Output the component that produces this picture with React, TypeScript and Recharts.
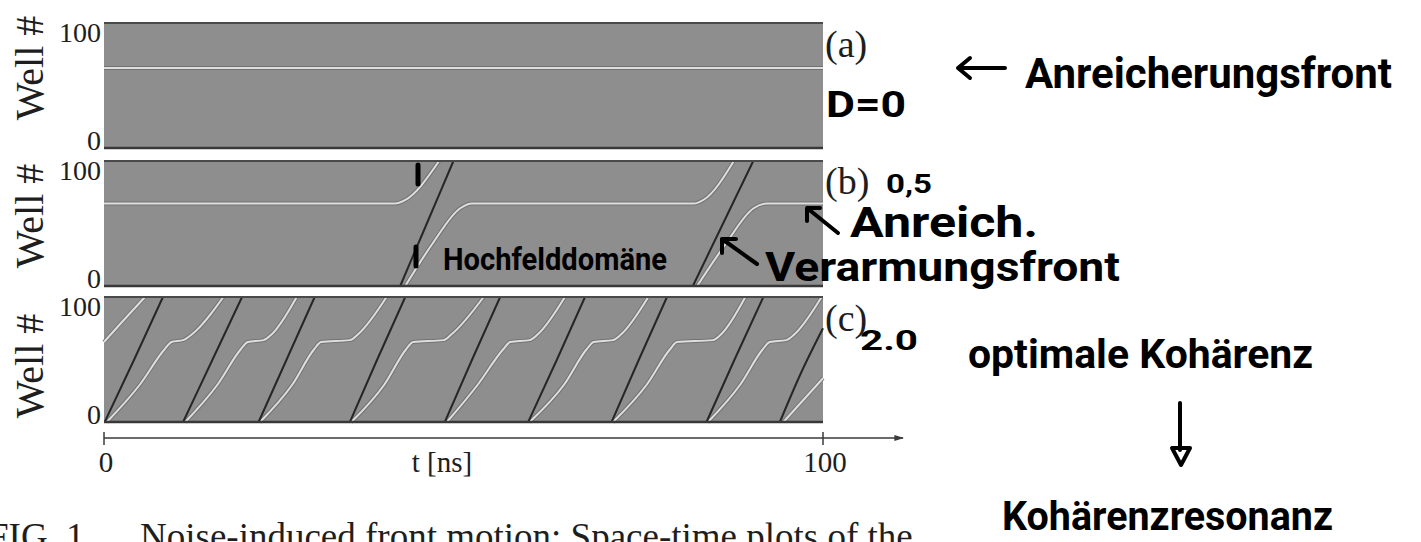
import React from "react"
import { LineChart, Line, XAxis, YAxis, ReferenceArea, ReferenceLine } from "recharts"

const SERIF = '"Liberation Serif", "Times New Roman", serif'
const HAND = 'Roboto, "DejaVu Sans", sans-serif'

type Pt = [number, number] // [t in ns, well #]

const wellTicks = [0, 100]
const timeTicks = [0, 100]
const panelTags = ["(a)", "(b)", "(c)"]

// (a) D = 0: the accumulation front stays put
const accumA: Pt[][] = [[[0, 64], [100, 64]]]
const depletionA: Pt[][] = []

// (b) D = 0.5: two noise-triggered domains
const accumB: Pt[][] = [
  [[0, 66], [40.5, 66], [41.8, 68.5], [46.6, 100]],
  [[41.9, 0], [45.7, 34], [49.5, 62], [51.2, 66], [82, 66], [83.4, 69], [87.6, 100]],
  [[82.5, 0], [86.5, 34], [90.3, 62], [92.2, 66], [100, 66]],
]
const depletionB: Pt[][] = [
  [[41.2, 0], [44.9, 50], [48.6, 100]],
  [[81.9, 0], [86.1, 50], [90.3, 100]],
]

// (c) D = 2.0: nearly periodic front motion
const accumC: Pt[][] = [
  [[0, 64], [2.5, 80], [5.7, 100]],
  [[0.4, 0], [5, 30], [8.4, 58], [9.4, 64], [11, 65.5], [12.2, 70], [16.6, 100]],
  [[11.3, 0], [15.8, 30], [19, 58], [20, 64], [22.2, 65.5], [23.3, 70], [26.8, 100]],
  [[21.7, 0], [26.2, 30], [29.2, 58], [30.2, 64], [34.2, 65.5], [35.3, 70], [39.3, 100]],
  [[34.4, 0], [39, 30], [42, 58], [43, 64], [47.2, 65.5], [48.3, 70], [52.8, 100]],
  [[47.7, 0], [52, 30], [55.5, 58], [56.5, 64], [59.2, 65.5], [60.3, 70], [64.1, 100]],
  [[59.2, 0], [64, 30], [67.1, 58], [68.1, 64], [70.8, 65.5], [71.9, 70], [75.7, 100]],
  [[70.8, 0], [75.5, 30], [78.7, 58], [79.7, 64], [84.7, 65.5], [85.8, 70], [89.2, 100]],
  [[84, 0], [88.5, 30], [91.6, 58], [92.6, 64], [94.9, 65.5], [96, 70], [99.8, 100]],
  [[94.5, 0], [100, 35]],
]
const depletionC: Pt[][] = [
  [[0.1, 0], [4.2, 50], [8.2, 100]],
  [[11, 0], [15.1, 50], [19.2, 100]],
  [[21.5, 0], [25.4, 50], [29.3, 100]],
  [[34.2, 0], [38, 50], [41.9, 100]],
  [[47.4, 0], [51.2, 50], [55.1, 100]],
  [[59, 0], [63, 50], [66.9, 100]],
  [[70.6, 0], [74.4, 50], [78.3, 100]],
  [[83.8, 0], [87.7, 50], [91.7, 100]],
  [[94, 0], [97, 40], [100, 75]],
]

const PANEL_H = 125
const PAD = 20
const toRows = (pts: Pt[]) => pts.map(([t, w]) => ({ t, w }))

const WellTick = ({ y, payload }: any) => (
  <text
    x={101}
    y={y + (payload.value === 100 ? 19 : 2)}
    textAnchor="end"
    fontFamily={SERIF}
    fontSize={28}
    fill="#1e1e1e"
  >
    {payload.value}
  </text>
)

const TimeTick = ({ x, y, payload }: any) => (
  <g>
    <line x1={x} x2={x} y1={y - 6} y2={y + 7} stroke="#3a3a3a" strokeWidth={1.5} />
    <text x={x + 2} y={y + 34} textAnchor="middle" fontFamily={SERIF} fontSize={29} fill="#1e1e1e">
      {payload.value}
    </text>
  </g>
)

const wellTitle = (cy: number) => () => (
  <text
    x={43}
    y={cy}
    transform={`rotate(-90 43 ${cy})`}
    textAnchor="middle"
    fontFamily={SERIF}
    fontSize={40}
    fill="#1e1e1e"
  >
    Well #
  </text>
)

const timeTitle = (props: any) => {
  const vb = props && props.viewBox
  const y = vb && typeof vb.y === "number" ? vb.y + 34 : PAD + PANEL_H + 16 + 34
  return (
    <text x={442} y={y} textAnchor="middle" fontFamily={SERIF} fontSize={29} fill="#1e1e1e">
      t [ns]
    </text>
  )
}

type PanelProps = {
  top: number
  accum: Pt[][]
  depletion: Pt[][]
  titleY: number
  withTime?: boolean
}

const SpaceTimePanel = ({ top, accum, depletion, titleY, withTime = false }: PanelProps) => {
  const width = withTime ? 911 : 823
  const height = withTime ? PAD + PANEL_H + 16 + 44 : PAD + PANEL_H + PAD
  return (
    <div style={{ position: "absolute", left: 0, top: top - PAD }}>
      <LineChart
        width={width}
        height={height}
        margin={{ top: PAD, right: withTime ? 8 : 0, bottom: withTime ? 0 : PAD, left: 0 }}
      >
        <XAxis
          type="number"
          dataKey="t"
          domain={[0, 100]}
          ticks={timeTicks}
          hide={!withTime}
          height={withTime ? 44 : 0}
          padding={{ left: 0, right: withTime ? 80 : 0 }}
          axisLine={{ stroke: "#3a3a3a", strokeWidth: 1.6, markerEnd: "url(#axisTip)" }}
          tickLine={false}
          tickSize={0}
          tickMargin={0}
          tick={<TimeTick />}
          label={withTime ? timeTitle : undefined}
        />
        <YAxis
          type="number"
          domain={[0, 100]}
          ticks={wellTicks}
          interval={0}
          width={104}
          axisLine={false}
          tickLine={false}
          tickSize={0}
          tickMargin={0}
          tick={<WellTick />}
          padding={{ top: 0, bottom: withTime ? 16 : 0 }}
          label={wellTitle(titleY + PAD)}
        />
        <ReferenceArea x1={0} x2={100} y1={0} y2={100} fill="#8e8e8e" fillOpacity={1} stroke="none" />
        {accum.map((pts, i) => (
          <Line
            key={`halo-${i}`}
            data={toRows(pts)}
            dataKey="w"
            type="monotone"
            stroke="#737373"
            strokeWidth={4}
            dot={false}
            activeDot={false}
            isAnimationActive={false}
          />
        ))}
        {accum.map((pts, i) => (
          <Line
            key={`accum-${i}`}
            data={toRows(pts)}
            dataKey="w"
            type="monotone"
            stroke="#dedede"
            strokeWidth={2}
            dot={false}
            activeDot={false}
            isAnimationActive={false}
          />
        ))}
        {depletion.map((pts, i) => (
          <Line
            key={`depl-${i}`}
            data={toRows(pts)}
            dataKey="w"
            type="monotone"
            stroke="#262626"
            strokeWidth={2}
            dot={false}
            activeDot={false}
            isAnimationActive={false}
          />
        ))}
        <ReferenceLine
          segment={[{ x: 0, y: 100 }, { x: 100, y: 100 }]}
          stroke="#4a4a4a"
          strokeWidth={2}
        />
        <ReferenceLine
          segment={[{ x: 0, y: 0 }, { x: 100, y: 0 }]}
          stroke="#383838"
          strokeWidth={2.5}
        />
      </LineChart>
    </div>
  )
}

const handText = { fontFamily: HAND, fontWeight: 700, fill: "#000" } as const
const pen = { stroke: "#000", strokeWidth: 4, strokeLinecap: "round", strokeLinejoin: "round", fill: "none" } as const

export default function App() {
  return (
    <div
      style={{
        position: "absolute",
        left: 0,
        top: 0,
        width: 1421,
        height: 542,
        overflow: "hidden",
        background: "#fff",
      }}
    >
      <SpaceTimePanel top={23} accum={accumA} depletion={depletionA} titleY={45} />
      <SpaceTimePanel top={161} accum={accumB} depletion={depletionB} titleY={55} />
      <SpaceTimePanel top={297} accum={accumC} depletion={depletionC} titleY={69} withTime />

      <svg
        width={1421}
        height={542}
        style={{ position: "absolute", left: 0, top: 0, pointerEvents: "none" }}
      >
        <defs>
          <marker id="axisTip" viewBox="0 0 10 10" refX="9" refY="5" markerWidth="6" markerHeight="6" orient="auto">
            <path d="M0,2 L10,5 L0,8 z" fill="#3a3a3a" />
          </marker>
        </defs>

        {/* panel tags */}
        {panelTags.map((tag, i) => (
          <text key={tag} x={825} y={[57, 194, 331][i]} fontFamily={SERIF} fontSize={38} fill="#1e1e1e">
            {tag}
          </text>
        ))}

        {/* handwritten notes */}
        <path d="M1005,68 L958,68 M970,58 L958,68 L970,78" {...pen} />
        <text x={1025} y={88} fontSize={42} textLength={367} lengthAdjust="spacingAndGlyphs" {...handText}>
          Anreicherungsfront
        </text>
        <text x={826} y={117} fontSize={36} textLength={80} lengthAdjust="spacingAndGlyphs" {...handText}>
          D=0
        </text>

        <text x={886} y={193} fontSize={26} textLength={46} lengthAdjust="spacingAndGlyphs" {...handText}>
          0,5
        </text>
        <path d="M838,233 L807,208 M807,221 L807,208 L820,208" {...pen} />
        <text x={850} y={237} fontSize={42} textLength={188} lengthAdjust="spacingAndGlyphs" {...handText}>
          Anreich.
        </text>
        <path d="M418,165 L418,184 M416,247 L416,266" {...pen} strokeWidth={5} />
        <text x={443} y={270} fontSize={32} textLength={224} lengthAdjust="spacingAndGlyphs" {...handText}>
          Hochfelddomäne
        </text>
        <path d="M757,264 L722,239 M722,253 L722,239 L736,239" {...pen} />
        <text x={765} y={281} fontSize={40} textLength={355} lengthAdjust="spacingAndGlyphs" {...handText}>
          Verarmungsfront
        </text>

        <text x={860} y={350} fontSize={28} textLength={58} lengthAdjust="spacingAndGlyphs" {...handText}>
          2.0
        </text>
        <text x={968} y={368} fontSize={40} textLength={345} lengthAdjust="spacingAndGlyphs" {...handText}>
          optimale Kohärenz
        </text>
        <path d="M1180,403 L1180,450 M1172,448 L1190,448 L1181,465 Z" {...pen} />
        <text x={1002} y={530} fontSize={40} textLength={331} lengthAdjust="spacingAndGlyphs" {...handText}>
          Kohärenzresonanz
        </text>

        {/* caption, first line */}
        <text x={-12} y={549} fontFamily={SERIF} fontSize={37} fill="#1e1e1e">
          FIG. 1.
        </text>
        <text x={140} y={549} fontFamily={SERIF} fontSize={37} fill="#1e1e1e">
          Noise-induced front motion: Space-time plots of the
        </text>
      </svg>
    </div>
  )
}
